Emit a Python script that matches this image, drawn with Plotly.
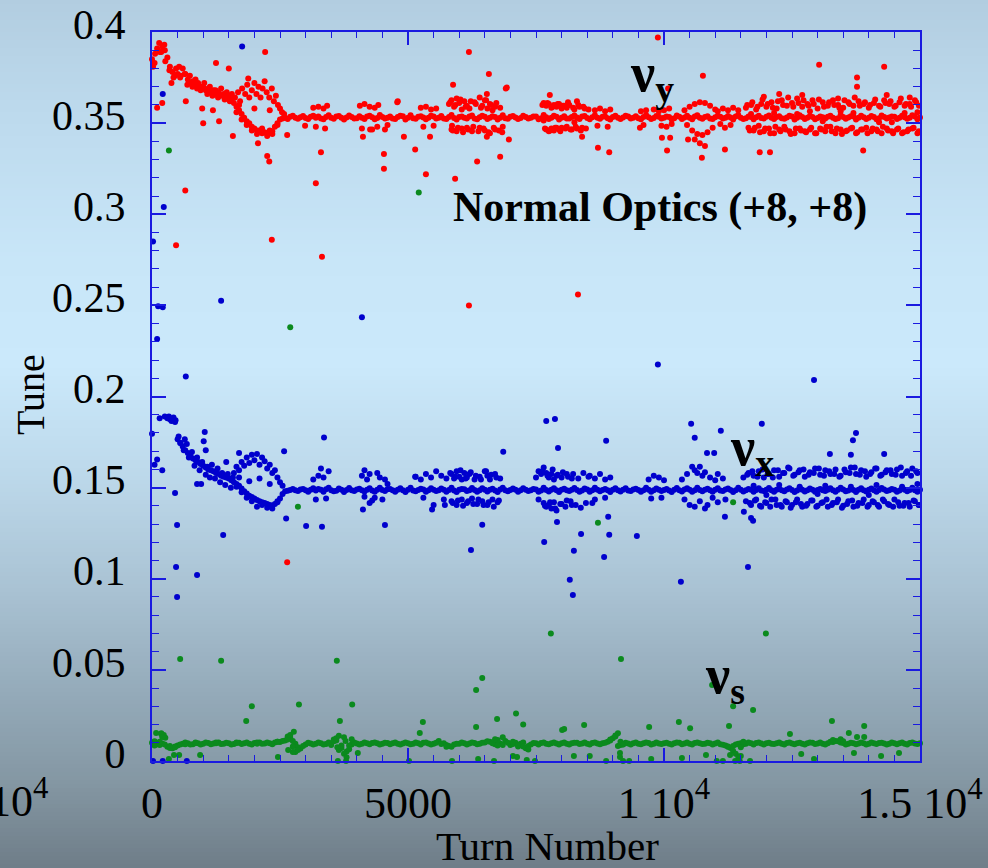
import plotly.graph_objects as go

# ---------------- data (turn number, tune) ----------------
core_turns = [
    0, 100, 200, 300, 400, 500, 600, 700, 800, 900,
    1000, 1100, 1200, 1300, 1400, 1500, 1600, 1700, 1800, 1900,
    2000, 2100, 2200, 2300, 2400, 2500, 2600, 2700, 2800, 2900,
    3000, 3100, 3200, 3300, 3400, 3500, 3600, 3700, 3800, 3900,
    4000, 4100, 4200, 4300, 4400, 4500, 4600, 4700, 4800, 4900,
    5000, 5100, 5200, 5300, 5400, 5500, 5600, 5700, 5800, 5900,
    6000, 6100, 6200, 6300, 6400, 6500, 6600, 6700, 6800, 6900,
    7000, 7100, 7200, 7300, 7400, 7500, 7600, 7700, 7800, 7900,
    8000, 8100, 8200, 8300, 8400, 8500, 8600, 8700, 8800, 8900,
    9000, 9100, 9200, 9300, 9400, 9500, 9600, 9700, 9800, 9900,
    10000, 10100, 10200, 10300, 10400, 10500, 10600, 10700, 10800, 10900,
    11000, 11100, 11200, 11300, 11400, 11500, 11600, 11700, 11800, 11900,
    12000, 12100, 12200, 12300, 12400, 12500, 12600, 12700, 12800, 12900,
    13000, 13100, 13200, 13300, 13400, 13500, 13600, 13700, 13800, 13900,
    14000, 14100, 14200, 14300, 14400, 14500, 14600, 14700, 14800, 14900,
    15000,
]
core2_turns = [
    50, 150, 250, 350, 450, 550, 650, 750, 850, 950,
    1050, 1150, 1250, 1350, 1450, 1550, 1650, 1750, 1850, 1950,
    2050, 2150, 2250, 2350, 2450, 2550, 2650, 2750, 2850, 2950,
    3050, 3150, 3250, 3350, 3450, 3550, 3650, 3750, 3850, 3950,
    4050, 4150, 4250, 4350, 4450, 4550, 4650, 4750, 4850, 4950,
    5050, 5150, 5250, 5350, 5450, 5550, 5650, 5750, 5850, 5950,
    6050, 6150, 6250, 6350, 6450, 6550, 6650, 6750, 6850, 6950,
    7050, 7150, 7250, 7350, 7450, 7550, 7650, 7750, 7850, 7950,
    8050, 8150, 8250, 8350, 8450, 8550, 8650, 8750, 8850, 8950,
    9050, 9150, 9250, 9350, 9450, 9550, 9650, 9750, 9850, 9950,
    10050, 10150, 10250, 10350, 10450, 10550, 10650, 10750, 10850, 10950,
    11050, 11150, 11250, 11350, 11450, 11550, 11650, 11750, 11850, 11950,
    12050, 12150, 12250, 12350, 12450, 12550, 12650, 12750, 12850, 12950,
    13050, 13150, 13250, 13350, 13450, 13550, 13650, 13750, 13850, 13950,
    14050, 14150, 14250, 14350, 14450, 14550, 14650, 14750, 14850, 14950,
]

nu_y_core = [
    0.385, 0.391, 0.392, 0.386, 0.378, 0.377, 0.380, 0.374, 0.373, 0.372,
    0.370, 0.369, 0.368, 0.367, 0.366, 0.365, 0.361, 0.357, 0.353, 0.350,
    0.347, 0.346, 0.345, 0.346, 0.348, 0.352, 0.353, 0.3535, 0.353, 0.3532,
    0.3528, 0.3535, 0.353, 0.3525, 0.3533, 0.353, 0.3536, 0.3529, 0.3531, 0.3534,
    0.3527, 0.353, 0.3536, 0.3532, 0.3528, 0.3534, 0.353, 0.3526, 0.3533, 0.3538,
    0.353, 0.3527, 0.3535, 0.3531, 0.3529, 0.3536, 0.353, 0.3525, 0.3534, 0.3528,
    0.3533, 0.353, 0.3537, 0.3526, 0.3532, 0.3535, 0.3529, 0.3533, 0.353, 0.3527,
    0.3535, 0.3531, 0.3528, 0.3534, 0.353, 0.3536, 0.3527, 0.3532, 0.3529, 0.3535,
    0.353, 0.3526, 0.3533, 0.3531, 0.3537, 0.3528, 0.3532, 0.353, 0.3535, 0.3527,
    0.3533, 0.3529, 0.3531, 0.3536, 0.353, 0.3527, 0.3534, 0.3532, 0.3528, 0.3535,
    0.353, 0.3533, 0.3527, 0.3535, 0.3531, 0.3529, 0.3536, 0.353, 0.3533, 0.3526,
    0.3532, 0.3535, 0.3529, 0.3531, 0.3537, 0.353, 0.3527, 0.3534, 0.3532, 0.3528,
    0.3535, 0.353, 0.3533, 0.3527, 0.3531, 0.3536, 0.3529, 0.3533, 0.353, 0.3534,
    0.3528, 0.3532, 0.3535, 0.353, 0.3527, 0.3533, 0.3531, 0.3536, 0.3529, 0.3532,
    0.353, 0.3534, 0.3527, 0.3533, 0.3531, 0.3535, 0.3529, 0.3532, 0.353, 0.3536,
    0.3531,
]
nu_y_core2 = [
    0.383, 0.389, 0.390, 0.381, 0.376, 0.375, 0.377, 0.372, 0.371, 0.370,
    0.368, 0.367, 0.366, 0.365, 0.364, 0.363, 0.359, 0.355, 0.351, 0.348,
    0.346, 0.3445, 0.344, 0.3455, 0.350, 0.3525, 0.3522, 0.3541, 0.3524, 0.3539,
    0.3522, 0.3540, 0.3537, 0.3521, 0.3543, 0.3524, 0.3539, 0.3520, 0.3542, 0.3526,
    0.3538, 0.3523, 0.3541, 0.3521, 0.3544, 0.3525, 0.3537, 0.3522, 0.3540, 0.3520,
    0.3543, 0.3524, 0.3538, 0.3521, 0.3541, 0.3526, 0.3539, 0.3522, 0.3544, 0.3520,
    0.3537, 0.3525, 0.3542, 0.3521, 0.3540, 0.3523, 0.3538, 0.3520, 0.3543, 0.3524,
    0.3539, 0.3522, 0.3541, 0.3526, 0.3537, 0.3521, 0.3544, 0.3523, 0.3540, 0.3520,
    0.3538, 0.3525, 0.3542, 0.3522, 0.3539, 0.3521, 0.3543, 0.3524, 0.3537, 0.3520,
    0.3541, 0.3523, 0.3540, 0.3526, 0.3538, 0.3521, 0.3544, 0.3522, 0.3539, 0.3525,
    0.3537, 0.3520, 0.3542, 0.3523, 0.3540, 0.3521, 0.3543, 0.3524, 0.3538, 0.3522,
    0.3541, 0.3526, 0.3539, 0.3520, 0.3544, 0.3523, 0.3537, 0.3521, 0.3540, 0.3525,
    0.3542, 0.3522, 0.3538, 0.3524, 0.3541, 0.3520, 0.3543, 0.3523, 0.3539, 0.3521,
    0.3537, 0.3526, 0.3540, 0.3522, 0.3544, 0.3524, 0.3538, 0.3520, 0.3541, 0.3523,
    0.3539, 0.3521, 0.3542, 0.3525, 0.3537, 0.3522, 0.3540, 0.3524, 0.3543, 0.3521,
]

nu_x_core = [
    0.1795, 0.1655, 0.1595, 0.1880, 0.1870, 0.1765, 0.1725, 0.1690, 0.1660, 0.1640,
    0.1620, 0.1600, 0.1590, 0.1575, 0.1560, 0.1550, 0.1530, 0.1510, 0.1480, 0.1455,
    0.1440, 0.1425, 0.1415, 0.1405, 0.1410, 0.1440, 0.1480, 0.1487, 0.1485, 0.1490,
    0.1486, 0.1489, 0.1484, 0.1488, 0.1491, 0.1486, 0.1483, 0.1489, 0.1487, 0.1485,
    0.1490, 0.1486, 0.1488, 0.1484, 0.1489, 0.1487, 0.1491, 0.1485, 0.1488, 0.1486,
    0.1489, 0.1484, 0.1487, 0.1490, 0.1486, 0.1488, 0.1485, 0.1489, 0.1487, 0.1484,
    0.1488, 0.1491, 0.1486, 0.1487, 0.1485, 0.1489, 0.1488, 0.1484, 0.1490, 0.1486,
    0.1487, 0.1489, 0.1485, 0.1488, 0.1486, 0.1490, 0.1484, 0.1487, 0.1489, 0.1486,
    0.1488, 0.1485, 0.1489, 0.1487, 0.1484, 0.1490, 0.1486, 0.1488, 0.1487, 0.1485,
    0.1489, 0.1486, 0.1488, 0.1484, 0.1490, 0.1487, 0.1485, 0.1489, 0.1486, 0.1488,
    0.1487, 0.1484, 0.1489, 0.1486, 0.1490, 0.1488, 0.1485, 0.1487, 0.1489, 0.1486,
    0.1488, 0.1484, 0.1490, 0.1487, 0.1485, 0.1489, 0.1486, 0.1488, 0.1487, 0.1484,
    0.1489, 0.1486, 0.1488, 0.1485, 0.1490, 0.1487, 0.1484, 0.1489, 0.1486, 0.1488,
    0.1487, 0.1485, 0.1489, 0.1486, 0.1488, 0.1490, 0.1484, 0.1487, 0.1489, 0.1486,
    0.1488, 0.1485, 0.1487, 0.1490, 0.1486, 0.1489, 0.1484, 0.1488, 0.1487, 0.1485,
    0.1489,
]
nu_x_core2 = [
    0.1625, 0.1880, 0.1890, 0.1875, 0.1860, 0.1745, 0.1705, 0.1675, 0.1650, 0.1630,
    0.1610, 0.1595, 0.1580, 0.1565, 0.1555, 0.1540, 0.1520, 0.1495, 0.1468, 0.1448,
    0.1432, 0.1420, 0.1410, 0.1402, 0.1420, 0.1465, 0.1483, 0.1492, 0.1481, 0.1493,
    0.1478, 0.1496, 0.1493, 0.1477, 0.1499, 0.1480, 0.1495, 0.1476, 0.1498, 0.1482,
    0.1494, 0.1479, 0.1497, 0.1477, 0.1500, 0.1481, 0.1493, 0.1478, 0.1496, 0.1476,
    0.1499, 0.1480, 0.1494, 0.1477, 0.1497, 0.1482, 0.1495, 0.1478, 0.1500, 0.1476,
    0.1493, 0.1481, 0.1498, 0.1477, 0.1496, 0.1479, 0.1494, 0.1476, 0.1499, 0.1480,
    0.1495, 0.1478, 0.1497, 0.1482, 0.1493, 0.1477, 0.1500, 0.1479, 0.1496, 0.1476,
    0.1494, 0.1481, 0.1498, 0.1478, 0.1495, 0.1477, 0.1499, 0.1480, 0.1493, 0.1476,
    0.1497, 0.1479, 0.1496, 0.1482, 0.1494, 0.1477, 0.1500, 0.1478, 0.1495, 0.1481,
    0.1493, 0.1476, 0.1498, 0.1479, 0.1496, 0.1477, 0.1499, 0.1480, 0.1494, 0.1478,
    0.1497, 0.1482, 0.1495, 0.1476, 0.1500, 0.1479, 0.1493, 0.1477, 0.1496, 0.1481,
    0.1498, 0.1478, 0.1494, 0.1480, 0.1497, 0.1476, 0.1499, 0.1479, 0.1495, 0.1477,
    0.1493, 0.1482, 0.1496, 0.1478, 0.1500, 0.1480, 0.1494, 0.1476, 0.1497, 0.1479,
    0.1495, 0.1477, 0.1498, 0.1481, 0.1493, 0.1478, 0.1496, 0.1480, 0.1499, 0.1477,
]

nu_s_core = [
    0.0100, 0.0092, 0.0096, 0.0078, 0.0070, 0.0085, 0.0095, 0.0098, 0.0092, 0.0097,
    0.0094, 0.0099, 0.0096, 0.0101, 0.0095, 0.0098, 0.0093, 0.0100, 0.0097, 0.0095,
    0.0099, 0.0102, 0.0096, 0.0098, 0.0101, 0.0104, 0.0112, 0.0128, 0.0095, 0.0068,
    0.0090, 0.0096, 0.0094, 0.0097, 0.0093, 0.0088, 0.0112, 0.0072, 0.0052, 0.0090,
    0.0096, 0.0094, 0.0098, 0.0099, 0.0097, 0.0095, 0.0099, 0.0097, 0.0094, 0.0096,
    0.0098, 0.0095, 0.0097, 0.0100, 0.0096, 0.0094, 0.0110, 0.0098, 0.0082, 0.0090,
    0.0094, 0.0098, 0.0096, 0.0099, 0.0095, 0.0102, 0.0106, 0.0092, 0.0096, 0.0110,
    0.0088, 0.0100, 0.0095, 0.0070, 0.0091, 0.0097, 0.0099, 0.0094, 0.0098, 0.0096,
    0.0098, 0.0095, 0.0097, 0.0100, 0.0096, 0.0094, 0.0099, 0.0096, 0.0098, 0.0105,
    0.0125, 0.0082, 0.0092, 0.0096, 0.0098, 0.0095, 0.0097, 0.0099, 0.0094, 0.0096,
    0.0098, 0.0095, 0.0097, 0.0100, 0.0096, 0.0094, 0.0099, 0.0097, 0.0095, 0.0098,
    0.0096, 0.0092, 0.0085, 0.0072, 0.0090, 0.0098, 0.0095, 0.0097, 0.0099, 0.0096,
    0.0098, 0.0095, 0.0097, 0.0094, 0.0099, 0.0096, 0.0098, 0.0095, 0.0097, 0.0100,
    0.0096, 0.0094, 0.0098, 0.0104, 0.0108, 0.0099, 0.0095, 0.0097, 0.0096, 0.0098,
    0.0095, 0.0097, 0.0099, 0.0096, 0.0094, 0.0098, 0.0097, 0.0095, 0.0099, 0.0096,
    0.0097,
]
nu_s_core2 = [
    0.0108, 0.0088, 0.0090, 0.0072, 0.0079, 0.0091, 0.0101, 0.0090, 0.0099, 0.0091,
    0.0101, 0.0092, 0.0102, 0.0093, 0.0100, 0.0091, 0.0102, 0.0093, 0.0101, 0.0090,
    0.0102, 0.0094, 0.0101, 0.0092, 0.0106, 0.0110, 0.0135, 0.0110, 0.0075, 0.0082,
    0.0100, 0.0091, 0.0101, 0.0090, 0.0102, 0.0118, 0.0060, 0.0130, 0.0085, 0.0101,
    0.0090, 0.0101, 0.0092, 0.0102, 0.0091, 0.0100, 0.0092, 0.0101, 0.0090, 0.0102,
    0.0092, 0.0101, 0.0090, 0.0102, 0.0091, 0.0100, 0.0093, 0.0088, 0.0078, 0.0095,
    0.0101, 0.0091, 0.0102, 0.0092, 0.0100, 0.0108, 0.0098, 0.0115, 0.0088, 0.0100,
    0.0093, 0.0080, 0.0101, 0.0082, 0.0099, 0.0091, 0.0102, 0.0092, 0.0101, 0.0090,
    0.0102, 0.0091, 0.0100, 0.0093, 0.0101, 0.0090, 0.0102, 0.0092, 0.0100, 0.0112,
    0.0135, 0.0088, 0.0100, 0.0091, 0.0102, 0.0092, 0.0101, 0.0090, 0.0102, 0.0093,
    0.0100, 0.0091, 0.0102, 0.0092, 0.0101, 0.0090, 0.0102, 0.0093, 0.0100, 0.0091,
    0.0101, 0.0089, 0.0078, 0.0082, 0.0095, 0.0092, 0.0101, 0.0090, 0.0102, 0.0091,
    0.0100, 0.0093, 0.0101, 0.0090, 0.0102, 0.0092, 0.0100, 0.0091, 0.0102, 0.0093,
    0.0101, 0.0090, 0.0106, 0.0110, 0.0102, 0.0091, 0.0100, 0.0092, 0.0101, 0.0090,
    0.0102, 0.0093, 0.0100, 0.0091, 0.0101, 0.0092, 0.0102, 0.0090, 0.0101, 0.0093,
]

# turns where the transverse tunes split into an upper and a lower band
split_upper_turns = [
    5825, 5925, 6025, 6125, 6225, 6325, 6425, 6525, 6625, 6725,
    7625, 7725, 7825, 7925, 8025, 8125, 8225, 8325, 8425, 8525,
    11625, 11725, 11825, 11925, 12025, 12125, 12225, 12325, 12425, 12525,
    12625, 12725, 12825, 12925, 13025, 13125, 13225, 13325, 13425, 13525,
    13625, 13725, 13825, 13925, 14025, 14125, 14225, 14325, 14425, 14525,
    14625, 14725, 14825, 14925,
]
split_lower_turns = [
    5875, 5975, 6075, 6175, 6275, 6375, 6475, 6575, 6675, 6775,
    7675, 7775, 7875, 7975, 8075, 8175, 8275, 8375, 8475,
    11675, 11775, 11875, 11975, 12075, 12175, 12275, 12375, 12475, 12575,
    12675, 12775, 12875, 12975, 13075, 13175, 13275, 13375, 13475, 13575,
    13675, 13775, 13875, 13975, 14075, 14175, 14275, 14375, 14475, 14575,
    14675, 14775, 14875, 14975,
]
nu_y_split_upper = [
    0.3615, 0.3600, 0.3630, 0.3590, 0.3620, 0.3605, 0.3585, 0.3625, 0.3600, 0.3610,
    0.3600, 0.3610, 0.3590, 0.3605, 0.3595, 0.3615, 0.3585, 0.3600, 0.3590, 0.3575,
    0.3600, 0.3615, 0.3590, 0.3630, 0.3605, 0.3585, 0.3620, 0.3600, 0.3640, 0.3590,
    0.3610, 0.3625, 0.3595, 0.3605, 0.3630, 0.3590, 0.3615, 0.3600, 0.3585, 0.3625,
    0.3605, 0.3640, 0.3595, 0.3615, 0.3600, 0.3630, 0.3590, 0.3610, 0.3620, 0.3595,
    0.3635, 0.3605, 0.3590, 0.3615,
]
nu_y_split_lower = [
    0.3460, 0.3475, 0.3450, 0.3465, 0.3480, 0.3455, 0.3470, 0.3450, 0.3475, 0.3460,
    0.3470, 0.3460, 0.3475, 0.3455, 0.3470, 0.3465, 0.3480, 0.3460, 0.3470,
    0.3460, 0.3475, 0.3450, 0.3470, 0.3445, 0.3480, 0.3455, 0.3465, 0.3440, 0.3470,
    0.3460, 0.3450, 0.3475, 0.3445, 0.3465, 0.3480, 0.3455, 0.3470, 0.3440, 0.3460,
    0.3475, 0.3450, 0.3465, 0.3445, 0.3470, 0.3455, 0.3480, 0.3460, 0.3445, 0.3470,
    0.3450, 0.3465, 0.3475, 0.3455,
]
nu_x_split_upper = [
    0.1580, 0.1560, 0.1595, 0.1550, 0.1585, 0.1565, 0.1545, 0.1590, 0.1570, 0.1555,
    0.1590, 0.1565, 0.1600, 0.1570, 0.1585, 0.1560, 0.1575, 0.1550, 0.1580, 0.1560,
    0.1570, 0.1590, 0.1560, 0.1600, 0.1575, 0.1555, 0.1595, 0.1580, 0.1610, 0.1565,
    0.1585, 0.1600, 0.1570, 0.1580, 0.1605, 0.1565, 0.1590, 0.1575, 0.1560, 0.1600,
    0.1580, 0.1610, 0.1570, 0.1590, 0.1575, 0.1605, 0.1565, 0.1585, 0.1595, 0.1570,
    0.1610, 0.1580, 0.1565, 0.1590,
]
nu_x_split_lower = [
    0.1415, 0.1430, 0.1400, 0.1425, 0.1410, 0.1435, 0.1405, 0.1420, 0.1395, 0.1430,
    0.1400, 0.1420, 0.1385, 0.1410, 0.1395, 0.1425, 0.1405, 0.1390, 0.1415,
    0.1415, 0.1430, 0.1400, 0.1420, 0.1395, 0.1435, 0.1405, 0.1425, 0.1390, 0.1420,
    0.1410, 0.1400, 0.1430, 0.1395, 0.1415, 0.1435, 0.1405, 0.1420, 0.1390, 0.1410,
    0.1430, 0.1400, 0.1415, 0.1395, 0.1425, 0.1405, 0.1435, 0.1410, 0.1395, 0.1420,
    0.1400, 0.1415, 0.1430, 0.1405,
]

# extra nu_y samples: early decay, loop, split bands, outliers
nu_y_extra_turns = [
    20, 60, 140, 180, 240, 260, 340, 380, 420, 470, 530, 560, 640, 690, 740, 790,
    850, 880, 950, 1020, 1080, 1130, 1180, 1240, 1290, 1350, 1420, 1460, 1520, 1560,
    1620, 1680, 1720, 1760, 1820, 1860, 1900, 1950, 2000, 2040, 2080, 2120, 2160,
    2200, 2240, 2290, 2340, 2380, 2420, 2460, 2500, 2540, 2580,
    1650, 1750, 1850, 1950, 2050, 2150, 2250, 2350, 2450, 1700, 2000, 2300,
    3150, 3250, 3350, 3420, 3200, 3380,
    4060, 4150, 4250, 4350, 4420, 4100, 4300, 4400, 4790, 4600,
    5250, 5350, 5450, 5550, 5300, 5500,
    5800, 5850, 5900, 5950, 6000, 6050, 6100, 6150, 6200, 6300, 6400, 6450, 6500,
    6550, 6600, 6650, 6700, 6800,
    5850, 5950, 6050, 6150, 6250, 6400, 6500, 6600, 6700, 6850,
    7650, 7700, 7750, 7800, 7850, 7900, 7950, 8000, 8050, 8100, 8150, 8250, 8350, 8450,
    7700, 7750, 7800, 7850, 7900, 7950, 8000, 8100, 8200, 8300, 8400, 7650, 8250,
    8650, 8750, 8850, 8950, 8700, 8900,
    9550, 9650, 9800, 9900, 10000, 10100, 9600, 9950, 10050, 10150,
    10400, 10500, 10600, 10700, 10800, 10900, 11000, 10450, 10550, 10650, 10750,
    10850, 10950, 10600, 10700,
    11050, 11150, 11250, 11350, 11450, 11100, 11300,
    11600, 11700, 11800, 11900, 12000, 12100, 12200, 12300, 12400, 12500, 12600,
    12700, 12800, 12900, 13000, 13100, 13200, 13300, 13400, 13500, 13600, 13700,
    13800, 13900, 14000, 14100, 14200, 14300, 14400, 14500, 14600, 14700, 14800,
    14900, 14980,
    11650, 11750, 11850, 11950, 12050, 12150, 12250, 12350, 12450, 12550, 12650,
    12750, 12850, 12950, 13050, 13150, 13250, 13350, 13450, 13550, 13650, 13750,
    13850, 13950, 14050, 14150, 14250, 14350, 14450, 14550, 14650, 14750, 14850,
    14950,
    11700, 12150, 12600, 13100, 13700, 14200, 14700, 14950, 12850, 13450, 14450,
    11950, 12250, 12700, 13400, 14350, 14800,
    2210, 1250, 1500, 200, 100, 660, 980, 1000, 1190, 1310, 1580, 2070, 2250, 2290,
    650, 470, 2340, 3320, 3200, 3300, 2640, 6190, 8320, 9880, 6190, 6580, 6910,
    5920, 6350, 6800, 6970, 4530, 4530, 5140, 5350, 5880, 4800, 5430, 4920, 8710,
    8930, 10060, 10740, 11190, 11870, 12070, 13890, 10800, 10760, 10080, 13030,
    14300, 13770, 13770, 1880, 2990, 4120, 4550, 5860, 6930, 6540, 7770, 8300,
    2640, 4260, 6540, 6840, 8400, 9530, 9960, 10120, 10470, 11190,
]
nu_y_extra_tunes = [
    0.381, 0.388, 0.394, 0.389, 0.393, 0.384, 0.379, 0.372, 0.375, 0.380, 0.381,
    0.376, 0.377, 0.371, 0.376, 0.370, 0.374, 0.369, 0.368, 0.372, 0.366, 0.370,
    0.365, 0.368, 0.364, 0.369, 0.363, 0.367, 0.362, 0.366,
    0.364, 0.367, 0.362, 0.369, 0.366, 0.371, 0.364, 0.368, 0.372, 0.366, 0.370,
    0.364, 0.369, 0.373, 0.367, 0.364, 0.369, 0.362, 0.365, 0.360, 0.358, 0.356,
    0.355,
    0.356, 0.352, 0.349, 0.346, 0.344, 0.347, 0.343, 0.344, 0.349, 0.360, 0.358,
    0.357,
    0.3585, 0.359, 0.358, 0.3595, 0.348, 0.347,
    0.3595, 0.3605, 0.359, 0.3585, 0.360, 0.347, 0.3465, 0.348, 0.3615, 0.349,
    0.3585, 0.359, 0.3575, 0.358, 0.348, 0.3485,
    0.3605, 0.3625, 0.359, 0.3635, 0.361, 0.3575, 0.362, 0.3595, 0.358, 0.3615,
    0.364, 0.3595, 0.3625, 0.358, 0.3605, 0.357, 0.359, 0.3585,
    0.3465, 0.3455, 0.347, 0.3475, 0.3455, 0.3475, 0.346, 0.3445, 0.3465, 0.348,
    0.361, 0.3595, 0.3605, 0.3585, 0.360, 0.359, 0.3605, 0.358, 0.3595, 0.3585,
    0.360, 0.3575, 0.359, 0.358,
    0.3465, 0.3455, 0.347, 0.346, 0.3475, 0.3465, 0.3475, 0.348, 0.3465, 0.347,
    0.3475, 0.3515, 0.3505,
    0.357, 0.358, 0.3565, 0.3575, 0.3485, 0.348,
    0.3565, 0.357, 0.3575, 0.3565, 0.357, 0.358, 0.349, 0.3485, 0.348, 0.3495,
    0.357, 0.359, 0.3605, 0.3615, 0.361, 0.3595, 0.3575, 0.349, 0.346, 0.344,
    0.3435, 0.345, 0.3475, 0.341, 0.339,
    0.3565, 0.358, 0.357, 0.3585, 0.357, 0.3495, 0.349,
    0.3585, 0.360, 0.3575, 0.3605, 0.359, 0.3615, 0.358, 0.3625, 0.3595, 0.361,
    0.3635, 0.359, 0.3605, 0.3625, 0.358, 0.3615, 0.3595, 0.3625, 0.360, 0.3585,
    0.3615, 0.3595, 0.362, 0.3605, 0.3585, 0.361, 0.3595, 0.3625, 0.3605, 0.359,
    0.3615, 0.3595, 0.3605, 0.3625, 0.3595,
    0.3475, 0.346, 0.3485, 0.3455, 0.347, 0.3445, 0.3465, 0.348, 0.3455, 0.3445,
    0.347, 0.3455, 0.3465, 0.3445, 0.347, 0.3455, 0.348, 0.3445, 0.3465, 0.3455,
    0.347, 0.3445, 0.3465, 0.3475, 0.3455, 0.3465, 0.3445, 0.347, 0.3455, 0.3465,
    0.3445, 0.3455, 0.347, 0.3445,
    0.355, 0.3555, 0.355, 0.351, 0.3555, 0.3505, 0.3555, 0.356, 0.3565, 0.3565,
    0.3505,
    0.3645, 0.366, 0.3655, 0.3635, 0.3655, 0.364,
    0.389, 0.383, 0.380, 0.361, 0.3585, 0.362, 0.358, 0.350, 0.357, 0.351, 0.343,
    0.339, 0.332, 0.329,
    0.313, 0.283, 0.286, 0.2767, 0.317, 0.334, 0.109, 0.250, 0.256, 0.397, 0.389,
    0.377, 0.369,
    0.3195, 0.329, 0.3315, 0.341, 0.333, 0.325, 0.3355, 0.322, 0.371, 0.362,
    0.3425, 0.3425, 0.3365,
    0.334, 0.335, 0.331, 0.3355, 0.334, 0.334, 0.335, 0.3375, 0.376, 0.369, 0.382,
    0.381, 0.375, 0.370, 0.3745, 0.3485, 0.3425, 0.3465, 0.3485, 0.3695, 0.366,
    0.3655, 0.362,
    0.3435, 0.3465, 0.3425, 0.345, 0.3425, 0.3475, 0.342, 0.342, 0.341, 0.3475,
]

nu_x_extra_turns = [
    330, 380, 420, 460, 520, 560, 620, 680, 720, 780, 830, 880, 930, 980, 1050,
    1080, 1130, 1170, 1230, 1280, 1330, 1370, 1430, 1480, 1540, 1580,
    1600, 1650, 1700, 1750, 1800, 1850, 1900, 1950, 2000, 2050, 2100, 2150, 2200,
    2250, 2300, 2350, 2400, 2450, 2500, 2550,
    1650, 1750, 1850, 1950, 2050, 2150, 2250, 2350, 2450, 1700, 1900, 2100, 2300,
    1030, 1010, 1050, 640, 1450, 880, 960, 1700,
    3150, 3250, 3350, 3450, 3300, 3200, 3400,
    4100, 4150, 4200, 4250, 4300, 4350, 4400, 4450, 4500, 4550, 4600, 4150, 4250,
    5150, 5250, 5350, 5450, 5550, 5650, 5750, 5300, 5500, 5700,
    5850, 5900, 5950, 6000, 6050, 6100, 6150, 6200, 6300, 6400, 6500, 6550, 6600,
    6700, 6800,
    5850, 5950, 6050, 6150, 6250, 6350, 6450, 6550, 6650, 6750,
    7500, 7550, 7600, 7650, 7700, 7750, 7800, 7850, 7900, 8000, 8100, 8200,
    7550, 7650, 7700, 7750, 7800, 7850, 7900, 8000, 8100, 8200,
    8550, 8650, 8750, 8850, 8950, 8650, 8850, 8600,
    9700, 9800, 9900, 10000, 9750, 9950,
    10350, 10450, 10550, 10600, 10650, 10700, 10750, 10800, 10900, 11000, 11050,
    11150,
    10400, 10500, 10600, 10700, 10800, 10850, 10950, 11050, 11200,
    11550, 11650, 11750, 11850, 11950, 12050, 12150, 12250, 12350, 12450, 12550,
    12650, 12750, 12850, 12950, 13050, 13150, 13250, 13350, 13450, 13550, 13650,
    13750, 13850, 13950, 14050, 14150, 14250, 14350, 14450, 14550, 14650, 14750,
    14850, 14950,
    11600, 11700, 11800, 11900, 12000, 12100, 12200, 12300, 12400, 12500, 12600,
    12700, 12800, 12900, 13000, 13100, 13200, 13300, 13400, 13500, 13600, 13700,
    13800, 13900, 14000, 14100, 14200, 14300, 14400, 14500, 14600, 14700, 14800,
    14900, 14980,
    11750, 12250, 12650, 13150, 13650, 14150, 14650, 14950, 12000, 13000, 14000,
    230, 20, 120, 210, 100, 660, 1350, 1760, 210, 4100, 9880, 12930,
    450, 490, 470, 880, 490, 1390, 2580, 2620, 3010, 3320, 3360, 4120, 4550, 5720,
    5470, 5140, 7700, 7870, 8870, 7930, 6860, 6450, 6230, 7910, 7660, 8240, 8380,
    8930, 8830, 8910, 9470, 8160, 8220, 10330, 10530, 10600, 11110, 10840, 10980,
    11190, 11910, 13750, 13690, 13240, 13650, 14300, 11560, 11700, 11740, 11640,
    20, 210, 680,
]
nu_x_extra_tunes = [
    0.189, 0.1865, 0.1885, 0.187, 0.178, 0.1745, 0.1705, 0.174, 0.1665, 0.1695,
    0.162, 0.1665, 0.1595, 0.164, 0.157, 0.1615, 0.1555, 0.1625, 0.155, 0.1605,
    0.153, 0.158, 0.1515, 0.1575, 0.150, 0.1555,
    0.158, 0.1615, 0.1595, 0.164, 0.162, 0.1665, 0.1635, 0.168, 0.165, 0.1685,
    0.1625, 0.1665, 0.1645, 0.1605, 0.1625, 0.158, 0.1595, 0.1555, 0.153, 0.151,
    0.1505, 0.1475, 0.1445, 0.1425, 0.1395, 0.1405, 0.139, 0.1385, 0.1425, 0.1555,
    0.1535, 0.155, 0.152,
    0.1805, 0.1755, 0.1705, 0.1765, 0.164, 0.152, 0.152, 0.169,
    0.1545, 0.1565, 0.1555, 0.159, 0.1605, 0.1435, 0.144,
    0.1565, 0.1595, 0.1545, 0.1575, 0.143, 0.1445, 0.158, 0.1555, 0.1435, 0.1545,
    0.152, 0.145, 0.1415,
    0.156, 0.1545, 0.1575, 0.1555, 0.159, 0.1565, 0.155, 0.1445, 0.1405, 0.1435,
    0.1575, 0.155, 0.159, 0.156, 0.1545, 0.158, 0.1555, 0.1575, 0.1545, 0.156,
    0.159, 0.1565, 0.1545, 0.1575, 0.155,
    0.1425, 0.1405, 0.1435, 0.1415, 0.144, 0.141, 0.1425, 0.1405, 0.1435, 0.142,
    0.1555, 0.159, 0.1575, 0.161, 0.158, 0.1555, 0.1575, 0.1545, 0.1565, 0.1555,
    0.1575, 0.155,
    0.1435, 0.1415, 0.1395, 0.1405, 0.1385, 0.142, 0.1375, 0.141, 0.143, 0.1405,
    0.1565, 0.155, 0.1575, 0.1545, 0.1555, 0.1435, 0.1445, 0.1415,
    0.1545, 0.1565, 0.1555, 0.154, 0.144, 0.1445,
    0.1545, 0.1575, 0.1615, 0.1595, 0.158, 0.1615, 0.1565, 0.1585, 0.1555, 0.154,
    0.1575, 0.155,
    0.1435, 0.1405, 0.1395, 0.1425, 0.1385, 0.1405, 0.1445, 0.142, 0.1435,
    0.1555, 0.158, 0.1565, 0.159, 0.1555, 0.1575, 0.1595, 0.156, 0.158, 0.1605,
    0.157, 0.1595, 0.156, 0.1585, 0.1605, 0.157, 0.1595, 0.1575, 0.160, 0.1565,
    0.1585, 0.161, 0.1575, 0.1595, 0.156, 0.1585, 0.1605, 0.157, 0.1595, 0.1575,
    0.160, 0.1565, 0.159, 0.1605, 0.158,
    0.1425, 0.1405, 0.1435, 0.1395, 0.1415, 0.1435, 0.1405, 0.1395, 0.142, 0.1405,
    0.1435, 0.1395, 0.141, 0.143, 0.140, 0.142, 0.1395, 0.1415, 0.1435, 0.140,
    0.1425, 0.1395, 0.1415, 0.1435, 0.1405, 0.142, 0.1395, 0.1425, 0.1405, 0.1435,
    0.140, 0.1415, 0.1395, 0.1425, 0.1405,
    0.151, 0.1515, 0.1505, 0.151, 0.1505, 0.1515, 0.1505, 0.152, 0.146, 0.1465,
    0.146,
    0.304, 0.285, 0.2495, 0.249, 0.2315, 0.211, 0.2525, 0.392, 0.366, 0.2435,
    0.2175, 0.209,
    0.147, 0.1295, 0.1065, 0.102, 0.090, 0.124, 0.170, 0.133, 0.129, 0.1285,
    0.1775, 0.138, 0.1295, 0.1405, 0.138, 0.156, 0.1865, 0.1877, 0.1757, 0.1718,
    0.1697, 0.1296, 0.1158, 0.1312, 0.1202, 0.1153, 0.1246, 0.1241, 0.112, 0.134,
    0.1235, 0.0994, 0.0911, 0.0983, 0.185, 0.1773, 0.1812, 0.169, 0.169, 0.134,
    0.185, 0.180, 0.176, 0.1685, 0.168, 0.1685, 0.1367, 0.1334, 0.1318, 0.1065,
    0.0, 0.0, 0.0,
]

nu_s_extra_turns = [
    50, 150, 180, 230, 260, 350, 450, 650, 850, 1250, 1650, 2050, 2450, 2650, 2700,
    2750, 2800, 2850, 3550, 3600, 3650, 3700, 3750, 3800, 3850, 3620, 3780, 3900,
    5750, 6700, 6750, 6850, 7050, 7150, 7250, 7350, 9050, 9100, 9150, 9200, 8950,
    11250, 11350, 11400, 11450, 11500, 11550, 13300, 13450, 13500,
    550, 1350, 1950, 1840, 2870, 3610, 3910, 3670, 6330, 6450, 7790, 6740, 7110,
    7250, 5290, 5230, 6330, 80, 180, 200, 2770, 2750, 2660, 2460, 940, 430, 530,
    330, 3630, 3790, 4020, 5020, 5860, 6370, 6680, 7320, 7480, 7050, 7130,
    11990, 9160, 10940, 11350, 11740, 8010, 8050, 8440, 9710, 10290, 10510, 11270,
    12460, 13280, 13610, 13770, 13910, 13910, 8240, 8550, 8870, 9140, 9140, 9200,
    9320, 9750, 10350, 10820, 11030, 11150, 11290, 11390, 11480, 11500, 11680,
    12680, 12930, 13710, 14240, 14590,
    330, 5210, 2700, 2850, 8710, 11350,
]
nu_s_extra_tunes = [
    0.0085, 0.0105, 0.0152, 0.0143, 0.0128, 0.0082, 0.0075, 0.0092, 0.0101, 0.0097,
    0.0099, 0.0095, 0.0106, 0.0118, 0.0142, 0.0080, 0.0050, 0.0060, 0.0108, 0.0125,
    0.0138, 0.0085, 0.0040, 0.0020, 0.0065, 0.0075, 0.0110, 0.0120, 0.0078, 0.0120,
    0.0085, 0.0130, 0.0105, 0.0088, 0.0079, 0.0063, 0.0140, 0.0152, 0.0105, 0.0090,
    0.0118, 0.0080, 0.0055, 0.0040, 0.0025, 0.0075, 0.0105, 0.0115, 0.0120, 0.0108,
    0.056, 0.055, 0.030, 0.022, 0.031, 0.055, 0.031, 0.022, 0.039, 0.0455, 0.070,
    0.023, 0.026, 0.020, 0.0214, 0.0154, 0.0187, 0.0154, 0.0148, 0.0132, 0.016,
    0.005, 0.006, 0.0022, 0.0033, 0.0033, 0.0033, 0.0011, 0.0, 0.0, 0.0044, 0.0,
    0.0, 0.0011, 0.0, 0.0005, 0.0, 0.0027, 0.0022,
    0.070, 0.056, 0.0417, 0.030, 0.028, 0.017, 0.0176, 0.0198, 0.0187, 0.0214,
    0.018, 0.0192, 0.0148, 0.022, 0.0154, 0.0132, 0.0192, 0.0132, 0.0027, 0.0027,
    0.0, 0.0044, 0.0022, 0.0, 0.0, 0.0011, 0.0016, 0.0033, 0.0, 0.0, 0.0033, 0.0,
    0.0, 0.0027, 0.0, 0.0038, 0.0011, 0.0044, 0.0027, 0.0044,
    0.335, 0.312, 0.238, 0.1395, 0.1307, 0.142,
]

x_tick_values = [0, 5000, 10000, 15000]
x_tick_labels = ["0", "5000", "1 10<sup>4</sup>", "1.5 10<sup>4</sup>"]
y_tick_values = [0, 0.05, 0.1, 0.15, 0.2, 0.25, 0.3, 0.35, 0.4]
y_tick_labels = ["0", "0.05", "0.1", "0.15", "0.2", "0.25", "0.3", "0.35", "0.4"]

# ---------------- figure ----------------
W, H = 988, 868
ML, MR, MT, MB = 152, 68, 32, 107
SERIF = "Liberation Serif"
AX = "#1a1ae0"

fig = go.Figure()
series = [
    (core_turns + core2_turns + split_upper_turns + split_lower_turns + nu_y_extra_turns,
     nu_y_core + nu_y_core2 + nu_y_split_upper + nu_y_split_lower + nu_y_extra_tunes,
     "#ff0000"),
    (core_turns + core2_turns + split_upper_turns + split_lower_turns + nu_x_extra_turns,
     nu_x_core + nu_x_core2 + nu_x_split_upper + nu_x_split_lower + nu_x_extra_tunes,
     "#0000cd"),
    (core_turns + core2_turns + nu_s_extra_turns,
     nu_s_core + nu_s_core2 + nu_s_extra_tunes,
     "#0b8a1e"),
]
for xs, ys, col in series:
    fig.add_trace(go.Scatter(x=xs, y=ys, mode="markers",
                             marker=dict(size=6, color=col, line=dict(width=0)),
                             showlegend=False, hoverinfo="skip", cliponaxis=False))

# background vertical gradient (styling only)
stops = [(0.0, (178, 205, 224)), (0.12, (188, 217, 236)), (0.30, (200, 230, 248)),
         (0.42, (203, 233, 251)), (0.55, (188, 216, 234)), (0.68, (169, 194, 211)),
         (0.80, (148, 170, 185)), (0.90, (132, 151, 163)), (1.0, (110, 125, 136))]

def col_at(t):
    for (t0, c0), (t1, c1) in zip(stops[:-1], stops[1:]):
        if t0 <= t <= t1:
            f = (t - t0) / (t1 - t0)
            return "rgb(%d,%d,%d)" % tuple(round(a + (b - a) * f) for a, b in zip(c0, c1))
    return "rgb(%d,%d,%d)" % stops[-1][1]

pw, ph = W - ML - MR, H - MT - MB


def px_x(px):
    return (px - ML) / pw


def px_y(py):
    return (H - MB - py) / ph


nb = 217
shapes = []
for i in range(nb):
    top_px = i * H / nb
    bot_px = (i + 1) * H / nb + 0.6
    t = (i + 0.5) / nb
    shapes.append(dict(type="rect", xref="paper", yref="paper", layer="below",
                       x0=px_x(0), x1=px_x(W), y0=px_y(bot_px), y1=px_y(top_px),
                       line=dict(width=0), fillcolor=col_at(t)))

ann_font = dict(family=SERIF, size=54, color="black")
annotations = [
    dict(x=9770, y=0.3755, xref="x", yref="y", text="<b>ν<sub>y</sub></b>",
         showarrow=False, font=ann_font),
    dict(x=11720, y=0.1705, xref="x", yref="y", text="<b>ν<sub>x</sub></b>",
         showarrow=False, font=ann_font),
    dict(x=11190, y=0.0455, xref="x", yref="y", text="<b>ν<sub>s</sub></b>",
         showarrow=False, font=ann_font),
    dict(x=9930, y=0.3036, xref="x", yref="y", text="<b>Normal Optics (+8, +8)</b>",
         showarrow=False, font=dict(family=SERIF, size=42, color="black")),
    dict(x=px_x(50), y=px_y(799), xref="paper", yref="paper",
         xanchor="right", yanchor="middle", text="10<sup>4</sup>",
         showarrow=False, font=dict(family=SERIF, size=44, color="black")),
    dict(x=px_x(547), y=px_y(846), xref="paper", yref="paper",
         xanchor="center", yanchor="middle", text="Turn Number",
         showarrow=False, font=dict(family=SERIF, size=41, color="black")),
    dict(x=px_x(31), y=px_y(395), xref="paper", yref="paper",
         xanchor="center", yanchor="middle", text="Tune", textangle=-90,
         showarrow=False, font=dict(family=SERIF, size=40, color="black")),
]

fig.update_layout(
    width=W, height=H,
    margin=dict(l=ML, r=MR, t=MT, b=MB, autoexpand=False),
    paper_bgcolor="rgba(0,0,0,0)", plot_bgcolor="rgba(0,0,0,0)",
    shapes=shapes, annotations=annotations,
    font=dict(family=SERIF, color="black"),
    xaxis=dict(range=[0, 15000], showgrid=False, zeroline=False, automargin=False,
               showline=True, linecolor=AX, linewidth=2, mirror="ticks",
               ticks="inside", ticklen=13, tickwidth=1.5, tickcolor=AX,
               tickvals=x_tick_values, ticktext=x_tick_labels,
               tickfont=dict(family=SERIF, size=44), ticklabelstandoff=2,
               minor=dict(dtick=500, ticks="inside", ticklen=6, tickwidth=1.2,
                          tickcolor=AX, showgrid=False)),
    yaxis=dict(range=[0, 0.4], showgrid=False, zeroline=False, automargin=False,
               showline=True, linecolor=AX, linewidth=2, mirror="ticks",
               ticks="inside", ticklen=14, tickwidth=1.5, tickcolor=AX,
               tickvals=y_tick_values, ticktext=y_tick_labels,
               tickfont=dict(family=SERIF, size=42), ticklabelstandoff=16,
               ticklabelshift=-8,
               minor=dict(dtick=0.01, ticks="inside", ticklen=7, tickwidth=1.2,
                          tickcolor=AX, showgrid=False)),
)

fig.write_html("out.html")
